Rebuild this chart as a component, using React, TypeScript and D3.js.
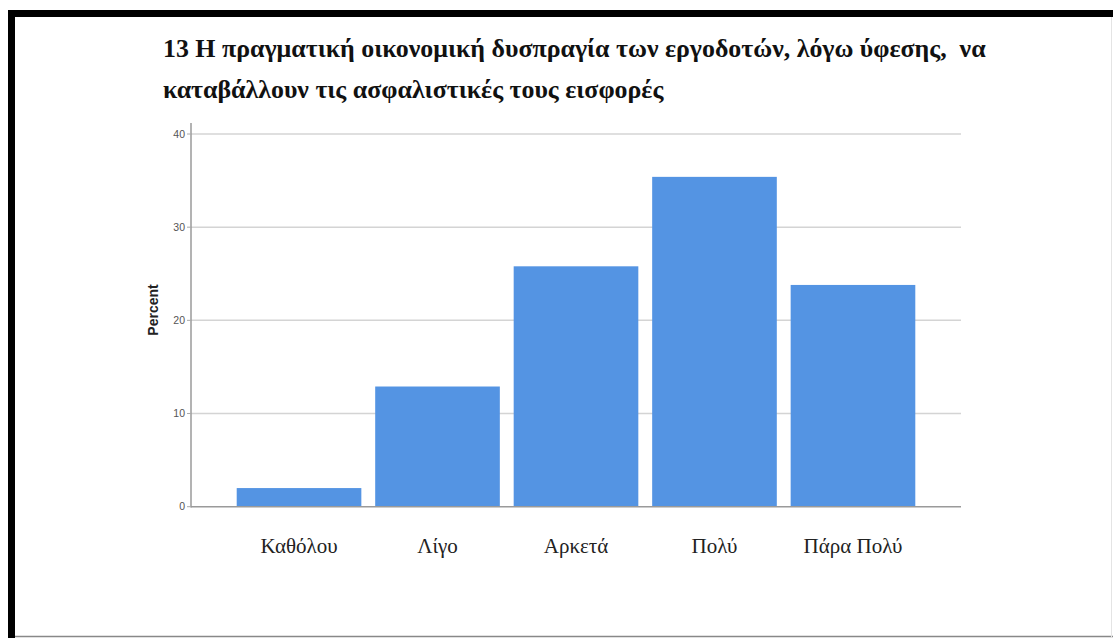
import React, { useEffect, useRef } from "react";
import * as d3 from "d3";

const categories = ["Καθόλου", "Λίγο", "Αρκετά", "Πολύ", "Πάρα Πολύ"];
const percents = [2.0, 12.9, 25.8, 35.4, 23.8];
const yTicks = [0, 10, 20, 30, 40];
const titleLines = [
  "13 Η πραγματική οικονομική δυσπραγία των εργοδοτών, λόγω ύφεσης,  να",
  "καταβάλλουν τις ασφαλιστικές τους εισφορές",
];
const yLabel = "Percent";

const W = 1113;
const H = 638;

export default function App() {
  const ref = useRef<SVGSVGElement | null>(null);

  useEffect(() => {
    const svg = d3.select(ref.current);
    svg.selectAll("*").remove();

    svg.append("rect").attr("x", 0).attr("y", 0).attr("width", W).attr("height", H).attr("fill", "#fff");

    // frame
    svg.append("rect").attr("x", 8).attr("y", 10).attr("width", W - 8).attr("height", 7).attr("fill", "#000");
    svg.append("rect").attr("x", 8).attr("y", 10).attr("width", 7).attr("height", H - 10).attr("fill", "#000");
    svg.append("line").attr("x1", 15).attr("x2", W).attr("y1", 636.5).attr("y2", 636.5).attr("stroke", "#888").attr("stroke-width", 1.5);
    svg.append("line").attr("x1", 1111.5).attr("x2", 1111.5).attr("y1", 17).attr("y2", 637).attr("stroke", "#e4e4e4").attr("stroke-width", 1);

    // title
    const title = svg.append("g");
    titleLines.forEach((t, i) => {
      title
        .append("text")
        .attr("x", 163)
        .attr("y", 57 + i * 41)
        .attr("font-family", "'Liberation Serif', 'Times New Roman', serif")
        .attr("font-weight", "bold")
        .attr("font-size", 25.9)
        .attr("fill", "#111")
        .style("white-space", "pre")
        .text(t);
    });

    const x0 = 191;
    const x1 = 961;
    const x = d3.scaleBand<string>().domain(categories).range([x0, x1]).paddingInner(0.1).paddingOuter(0.33);
    const y = d3.scaleLinear().domain([0, 40]).range([506.7, 134]);

    // gridlines
    svg
      .append("g")
      .selectAll("line")
      .data(yTicks.filter((d) => d > 0))
      .join("line")
      .attr("x1", x0)
      .attr("x2", x1)
      .attr("y1", (d) => y(d))
      .attr("y2", (d) => y(d))
      .attr("stroke", "#d4d4d4")
      .attr("stroke-width", 1.5);

    // bars
    svg
      .append("g")
      .selectAll("rect")
      .data(percents)
      .join("rect")
      .attr("x", (_, i) => x(categories[i])!)
      .attr("width", x.bandwidth())
      .attr("y", (d) => y(d))
      .attr("height", (d) => y(0) - y(d))
      .attr("fill", "#5494e3");

    // axes lines
    svg.append("line").attr("x1", x0).attr("x2", x0).attr("y1", 123).attr("y2", y(0) + 0.75).attr("stroke", "#9a9a9a").attr("stroke-width", 1.5);
    svg.append("line").attr("x1", x0).attr("x2", x1).attr("y1", y(0)).attr("y2", y(0)).attr("stroke", "#9a9a9a").attr("stroke-width", 1.5);

    // y ticks
    const yt = svg.append("g");
    yTicks.forEach((t) => {
      yt.append("line").attr("x1", x0 - 4).attr("x2", x0).attr("y1", y(t)).attr("y2", y(t)).attr("stroke", "#aaa").attr("stroke-width", 1);
      yt.append("text")
        .attr("x", x0 - 6)
        .attr("y", y(t))
        .attr("dy", "0.35em")
        .attr("text-anchor", "end")
        .attr("font-family", "'Liberation Sans', Arial, sans-serif")
        .attr("font-size", 10.5)
        .attr("fill", "#555")
        .text(String(t));
    });

    svg
      .append("text")
      .attr("transform", `translate(158,${310}) rotate(-90)`)
      .attr("text-anchor", "middle")
      .attr("font-family", "'Liberation Sans', Arial, sans-serif")
      .attr("font-weight", "bold")
      .attr("font-size", 14)
      .attr("fill", "#222")
      .text(yLabel);

    // category labels
    svg
      .append("g")
      .selectAll("text")
      .data(categories)
      .join("text")
      .attr("x", (d) => x(d)! + x.bandwidth() / 2)
      .attr("y", 553)
      .attr("text-anchor", "middle")
      .attr("font-family", "'Liberation Serif', 'Times New Roman', serif")
      .attr("font-size", 21)
      .attr("fill", "#222")
      .text((d) => d);
  }, []);

  return (
    <svg
      ref={ref}
      width={W}
      height={H}
      style={{ position: "absolute", left: 0, top: 0, display: "block" }}
    />
  );
}
